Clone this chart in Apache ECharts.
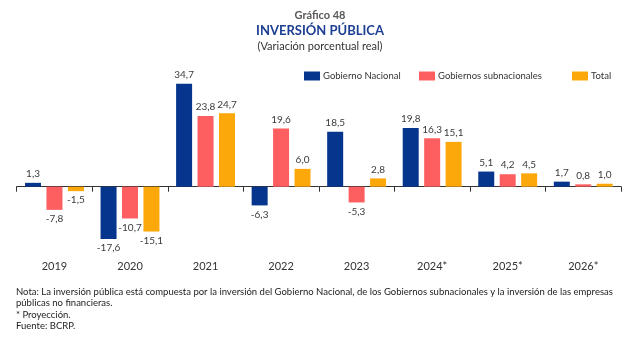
<!DOCTYPE html>
<html>
<head>
<meta charset="utf-8">
<script src="https://cdn.jsdelivr.net/npm/echarts@6/dist/echarts.min.js"></script>
<style>
html,body{margin:0;padding:0;background:#fff;}
#c{width:640px;height:337px;}
</style>
</head>
<body>
<div id="c"></div>
<script>
var categories = ['2019','2020','2021','2022','2023','2024*','2025*','2026*'];
var gobiernoNacional = [1.3, -17.6, 34.7, -6.3, 18.5, 19.8, 5.1, 1.7];
var gobiernosSubnacionales = [-7.8, -10.7, 23.8, 19.6, -5.3, 16.3, 4.2, 0.8];
var total = [-1.5, -15.1, 24.7, 6.0, 2.8, 15.1, 4.5, 1.0];
var seriesNames = ['Gobierno Nacional', 'Gobiernos subnacionales', 'Total'];
var colors = ['#05358c', '#fd5f61', '#fda80a'];

var FONT = 'Lato';

function toData(arr){
  return arr.map(function(v){
    return {value: v, label: {position: v >= 0 ? 'top' : 'bottom'}};
  });
}
function fmt(p){ return String(p.value.toFixed(1)).replace('.', ','); }

var chart = echarts.init(document.getElementById('c'), null, {renderer:'canvas'});
var seriesArr = [gobiernoNacional, gobiernosSubnacionales, total].map(function(arr, i){
  return {
    name: seriesNames[i],
    type: 'bar',
    xAxisIndex: 0,
    barWidth: 16,
    barGap: '34%',
    itemStyle: {color: colors[i]},
    label: {show: true, formatter: fmt, distance: 4, fontFamily: FONT, fontSize: 10, color: '#3a3a3a'},
    data: toData(arr)
  };
});

function legendAt(i, left){
  return {
    data: [seriesNames[i]], left: left, top: 66, itemWidth: 16, itemHeight: 9,
    icon: 'rect', itemGap: 0,
    textStyle: {fontFamily: FONT, fontSize: 9.5, color: '#333', padding: [0,0,0,-2]}
  };
}

chart.setOption({
  animation: false,
  textStyle: {fontFamily: FONT},
  title: [
    {text: 'Gráfico 48', left: 'center', top: 5, textStyle: {fontFamily: FONT, fontSize: 11, fontWeight: 'bold', color: '#595959'}},
    {text: 'INVERSIÓN PÚBLICA', left: 'center', top: 19, textStyle: {fontFamily: FONT, fontSize: 13, fontWeight: 'bold', color: '#1c3f94'}},
    {text: '(Variación porcentual real)', left: 'center', top: 36, textStyle: {fontFamily: FONT, fontSize: 11, fontWeight: 'normal', color: '#333'}}
  ],
  legend: [legendAt(0, 299), legendAt(1, 414), legendAt(2, 567)],
  grid: {left: 16.7, right: 19, top: 67.9, bottom: 90.9, containLabel: false},
  xAxis: [
    {type: 'category', data: categories, axisLine: {onZero: true, lineStyle: {color: '#333', width: 1}},
     axisTick: {show: true, length: 5, lineStyle: {color: '#333'}}, axisLabel: {show: false}},
    {type: 'category', data: categories, position: 'bottom', axisLine: {show: false, onZero: false},
     axisTick: {show: false}, axisLabel: {show: true, margin: 15, fontFamily: FONT, fontSize: 11, color: '#333'}}
  ],
  yAxis: {type: 'value', min: -20, max: 40, show: false, splitLine: {show: false}},
  graphic: [{
    type: 'text', left: 16, top: 286,
    style: {
      text: 'Nota: La inversión pública está compuesta por la inversión del Gobierno Nacional, de los Gobiernos subnacionales y la inversión de las empresas\npúblicas no financieras.\n* Proyección.\nFuente: BCRP.',
      font: '9.5px ' + FONT, fill: '#222', lineHeight: 11.5
    }
  }],
  series: seriesArr
});
</script>
</body>
</html>
